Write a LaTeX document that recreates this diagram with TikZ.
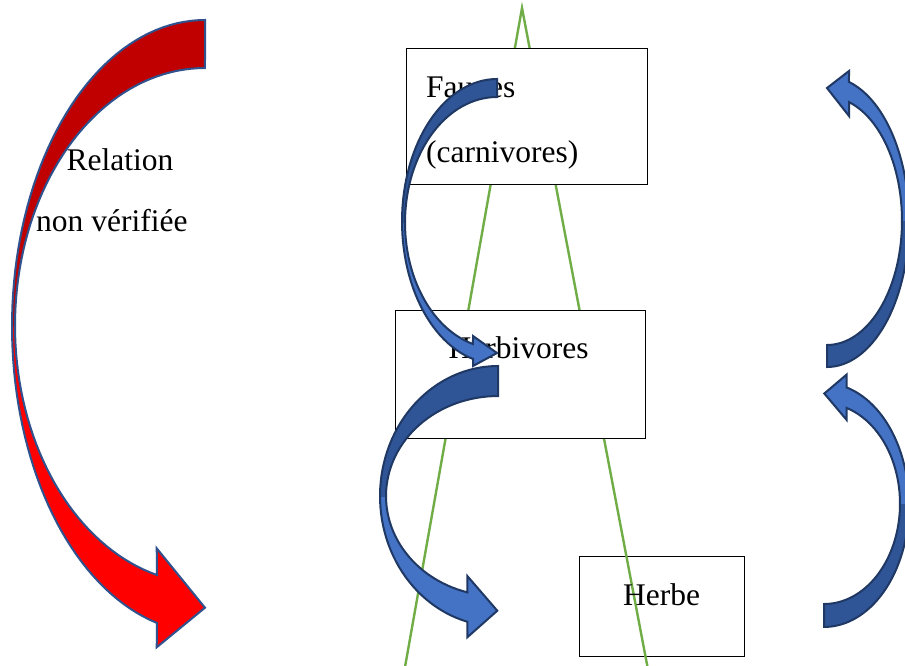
\documentclass[tikz,border=0pt]{standalone}
\usepackage{fontspec}
\setmainfont{Liberation Serif}
\definecolor{redA}{HTML}{FF0000}
\definecolor{redB}{HTML}{C00000}
\definecolor{blueA}{HTML}{4472C4}
\definecolor{blueB}{HTML}{2F5597}
\definecolor{lineBlue}{HTML}{2F528F}
\definecolor{navy}{HTML}{1F3864}
\definecolor{leaf}{HTML}{70AD47}
\tikzset{
  box/.style={draw=black, line width=1pt, fill=white, inner sep=0pt},
  lbl/.style={inner sep=0pt, anchor=base west, font=\fontsize{31.5}{38}\selectfont},
  pyr/.style={draw=leaf, line width=2.4pt},
  redline/.style={draw=lineBlue, line width=2pt, line join=miter},
  blueline/.style={draw=navy, line width=2pt, line join=miter},
}
\def\redArrow{plot[domain=270:104.4,samples=80] ({205+193*cos(\x)},{326.3+306.3*sin(\x)}) -- (156.7,647.3) -- (205,607.7) -- (156.7,548.3) -- plot[domain=104.63:270,samples=80] ({205+190*cos(\x)},{325.7+257.7*sin(\x)}) -- cycle}
\def\midArrowA{plot[domain=270:104.63,samples=60] ({497+95*cos(\x)},{221.3+142.3*sin(\x)}) -- (473,366) -- (497,353) -- (473,336) -- plot[domain=105.13:270,samples=60] ({497+92*cos(\x)},{222.7+125.7*sin(\x)}) -- cycle}
\def\midArrowB{plot[domain=270:105.08,samples=60] ({498+118*cos(\x)},{496.1+130.1*sin(\x)}) -- (467.3,637.3) -- (497.3,610.7) -- (467.3,576) -- plot[domain=105.91:270,samples=60] ({498+112*cos(\x)},{496.1+100.07*sin(\x)}) -- cycle}
\def\rightArrowA{plot[domain=90:-74.45,samples=60] ({827+82*cos(\x)},{221.8+145.2*sin(\x)}) -- (849,71) -- (827,88) -- (849,116) -- plot[domain=-72.94:90,samples=60] ({827+75*cos(\x)},{220.8+124.2*sin(\x)}) -- cycle}
\def\rightArrowB{plot[domain=90:-74.51,samples=60] ({824+85*cos(\x)},{505.0+121.96*sin(\x)}) -- (846.7,374.5) -- (824.3,393.5) -- (846.7,420) -- plot[domain=-72.62:90,samples=60] ({824+76*cos(\x)},{503.7+100.3*sin(\x)}) -- cycle}
\begin{document}
\begin{tikzpicture}[x=1pt,y=-1pt]
\useasboundingbox (0,0) rectangle (905,665);
\clip (0,0) rectangle (905,665);
\fill[white] (0,0) rectangle (905,665);
% Herbe box (under the pyramid lines)
\node[box, minimum width=165pt, minimum height=100pt, anchor=north west] (herbebox) at (579,556) {};
% pyramid lines
\coordinate (apex) at (522,8);
\coordinate (gl) at (405,667);
\coordinate (gr) at (647.5,667);
\draw[pyr] (gl) -- (apex) -- (gr);
% boxes over the lines
\node[box, minimum width=241pt, minimum height=136pt, anchor=north west] (faunesbox) at (406,48) {};
\node[box, minimum width=250pt, minimum height=128pt, anchor=north west] (herbbox) at (395,310) {};
% texts
\node[lbl] (t1) at (426,97) {Faunes};
\node[lbl] (t2) at (426,162) {(carnivores)};
\node[lbl] (t3) at (448.5,358.3) {Herbivores};
\node[lbl] (t4) at (623,605) {Herbe};
\node[lbl] (t5) at (66.5,170.7) {Relation};
\node[lbl] (t6) at (36,231.7) {non vérifiée};
% red arrow
\fill[redA] \redArrow;
\begin{scope}\clip (0,0) rectangle (905,326);\fill[redB] \redArrow;\end{scope}
\draw[redline] \redArrow;
% middle arrows
\fill[blueA] \midArrowA;
\begin{scope}\clip (0,0) rectangle (905,222);\fill[blueB] \midArrowA;\end{scope}
\draw[blueline] \midArrowA;
\fill[blueA] \midArrowB;
\begin{scope}\clip (0,0) rectangle (905,496);\fill[blueB] \midArrowB;\end{scope}
\draw[blueline] \midArrowB;
% right arrows
\fill[blueA] \rightArrowA;
\begin{scope}\clip (0,221) rectangle (905,665);\fill[blueB] \rightArrowA;\end{scope}
\draw[blueline] \rightArrowA;
\fill[blueA] \rightArrowB;
\begin{scope}\clip (0,504) rectangle (905,665);\fill[blueB] \rightArrowB;\end{scope}
\draw[blueline] \rightArrowB;
\end{tikzpicture}
\end{document}
